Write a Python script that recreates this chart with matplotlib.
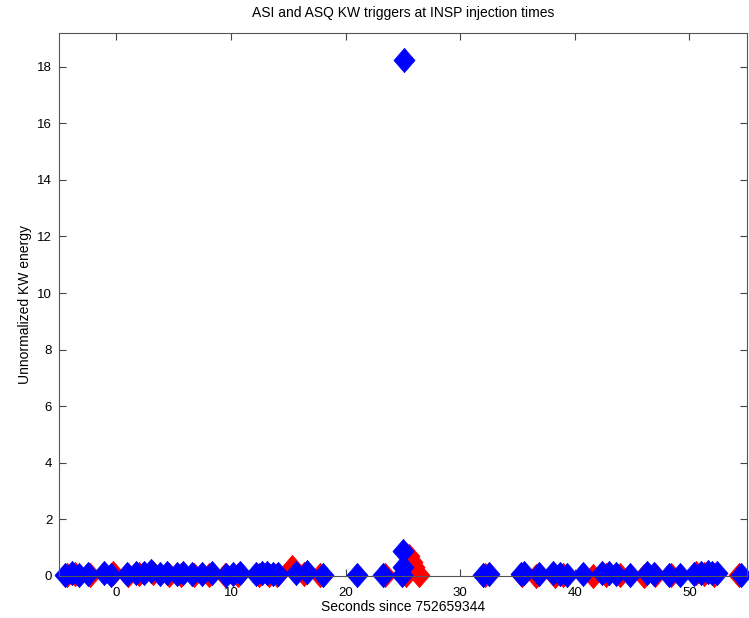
import numpy as np
import matplotlib.pyplot as plt

plt.rcParams['font.family'] = ['Liberation Sans', 'DejaVu Sans']
fontsize = 10
ticksize = 9.5

# ASI triggers (red, drawn underneath)
asi_time = [-4.3, -3.6, -2.3, -0.3, 1.0, 2.0, 3.2, 4.6, 5.6, 6.8,
            8.1, 9.5, 10.6, 12.4, 13.3, 14.0, 15.3, 16.4, 17.8, 23.4,
            25.3, 25.5, 25.8, 26.0, 26.4, 32.2, 35.4, 36.6, 38.3, 39.0,
            41.6, 42.7, 43.9, 46.0, 47.0, 48.4, 50.6, 51.3, 52.1, 54.3]
asi_energy = [0.05, 0.08, 0.05, 0.12, 0.05, 0.08, 0.10, 0.05, 0.05, 0.05,
              0.05, 0.05, 0.05, 0.05, 0.05, 0.05, 0.32, 0.08, 0.02, 0.02,
              0.05, 0.70, 0.50, 0.30, 0.05, 0.02, 0.05, 0.00, 0.00, 0.02,
              0.00, 0.05, 0.02, 0.00, 0.05, 0.05, 0.12, 0.08, 0.05, 0.05]

# ASQ triggers (blue, on top)
asq_time = [-4.5, -3.9, -3.3, -2.5, -1.1, -0.5, 0.9, 1.7, 2.4, 3.0,
            3.8, 4.4, 5.3, 5.8, 6.6, 7.5, 8.3, 9.6, 10.2, 10.8,
            12.2, 12.7, 13.1, 13.7, 14.1, 15.7, 16.6, 18.0, 21.0, 23.3,
            24.9, 25.0, 25.0, 25.1, 32.0, 32.5, 35.3, 35.6, 36.9, 38.1,
            38.7, 39.3, 40.7, 42.4, 43.0, 43.6, 44.8, 46.3, 46.9, 48.2,
            49.2, 50.4, 51.0, 51.6, 52.0, 52.4, 54.5]
asq_energy = [0.05, 0.10, 0.05, 0.08, 0.10, 0.02, 0.08, 0.10, 0.12, 0.18,
              0.08, 0.10, 0.08, 0.10, 0.08, 0.08, 0.10, 0.02, 0.08, 0.12,
              0.08, 0.12, 0.10, 0.06, 0.08, 0.12, 0.15, 0.05, 0.02, 0.02,
              0.02, 0.30, 0.90, 18.25, 0.05, 0.08, 0.08, 0.12, 0.08, 0.10,
              0.08, 0.05, 0.08, 0.10, 0.12, 0.08, 0.05, 0.10, 0.08, 0.05,
              0.05, 0.08, 0.10, 0.15, 0.12, 0.10, 0.05]

# matlab-style diamond, a bit taller than wide
diamond = [(0, -1.15), (1, 0), (0, 1.15), (-1, 0), (0, -1.15)]

fig = plt.figure(figsize=(7.49, 6.18), dpi=100)
ax = fig.add_axes([0.079, 0.068, 0.918, 0.879])

ax.plot(asi_time, asi_energy, linestyle='none', marker=diamond, markersize=17.5,
        color='red', markeredgewidth=0.5, clip_on=False)
ax.plot(asq_time, asq_energy, linestyle='none', marker=diamond, markersize=17.5,
        color='blue', markeredgewidth=0.5, clip_on=False)

ax.set_xlim(-5, 55)
ax.set_ylim(0, 19.2)
ax.set_xticks(range(0, 60, 10))
ax.set_yticks(range(0, 20, 2))
ax.tick_params(direction='in', length=5, top=True, right=True, labelsize=ticksize, color='#444444')
ax.tick_params(axis='x', pad=8)
ax.tick_params(axis='y', pad=5)
for s in ax.spines.values():
    s.set_color('#555555')
    s.set_linewidth(0.8)

ax.set_title('ASI and ASQ KW triggers at INSP injection times', fontsize=fontsize, pad=11)
ax.set_xlabel('Seconds since 752659344', fontsize=fontsize, labelpad=1)
ax.set_ylabel('Unnormalized KW energy', fontsize=fontsize, labelpad=4)

plt.savefig('out.png', dpi=100)
